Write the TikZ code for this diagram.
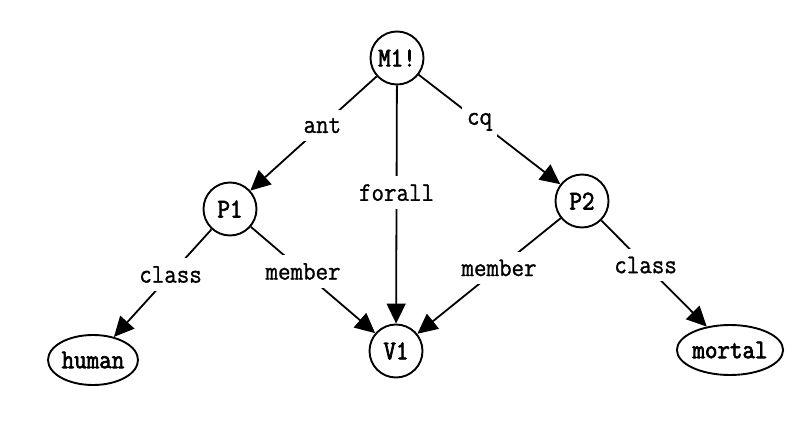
\documentclass[tikz,border=0pt]{standalone}
\usepackage{fontspec}
\newfontfamily\nodefont{Latin Modern Mono}[FakeStretch=0.9, FakeBold=2.5]
\newfontfamily\relfont{Latin Modern Mono}[FakeStretch=0.9, FakeBold=1]
\usetikzlibrary{arrows.meta,shapes.geometric}
\tikzset{
  snode/.style={circle, draw, line width=1.9pt, minimum size=53pt, inner sep=0pt,
    font=\nodefont\fontsize{27}{30}\selectfont},
  base/.style={ellipse, draw, line width=1.9pt, minimum height=50pt, inner sep=0pt,
    font=\nodefont\fontsize{27}{30}\selectfont},
  arc/.style={line width=1.8pt, -{Triangle[length=20pt,width=19pt]}},
  rel/.style={fill=white, inner xsep=5pt, inner ysep=8pt, pos=0.43,
    font=\relfont\fontsize{27}{30}\selectfont}
}
\begin{document}
\begin{tikzpicture}[x=1pt, y=-1pt]
  \useasboundingbox (0,0) rectangle (811,433);

  \node[snode] (M1) at (397, 58) {M1!};
  \node[snode] (P1) at (230,209) {P1};
  \node[snode] (P2) at (582,201) {P2};
  \node[snode] (V1) at (396,351) {V1};
  \node[base, minimum width=90pt]  (human)  at ( 93,360) {human};
  \node[base, minimum width=104pt] (mortal) at (730,350) {mortal};

  \draw[arc] (M1) -- node[rel]           {ant}    (P1);
  \draw[arc] (M1) -- node[rel]           {cq}     (P2);
  \draw[arc] (M1) -- node[rel, pos=0.45] {forall} (V1);

  \draw[arc] (P1) -- node[rel, pos=0.42] {class}  (human);
  \draw[arc] (P1) -- node[rel, pos=0.42] {member} (V1);
  \draw[arc] (P2) -- node[rel]           {member} (V1);
  \draw[arc] (P2) -- node[rel, pos=0.42] {class}  (mortal);
\end{tikzpicture}
\end{document}
